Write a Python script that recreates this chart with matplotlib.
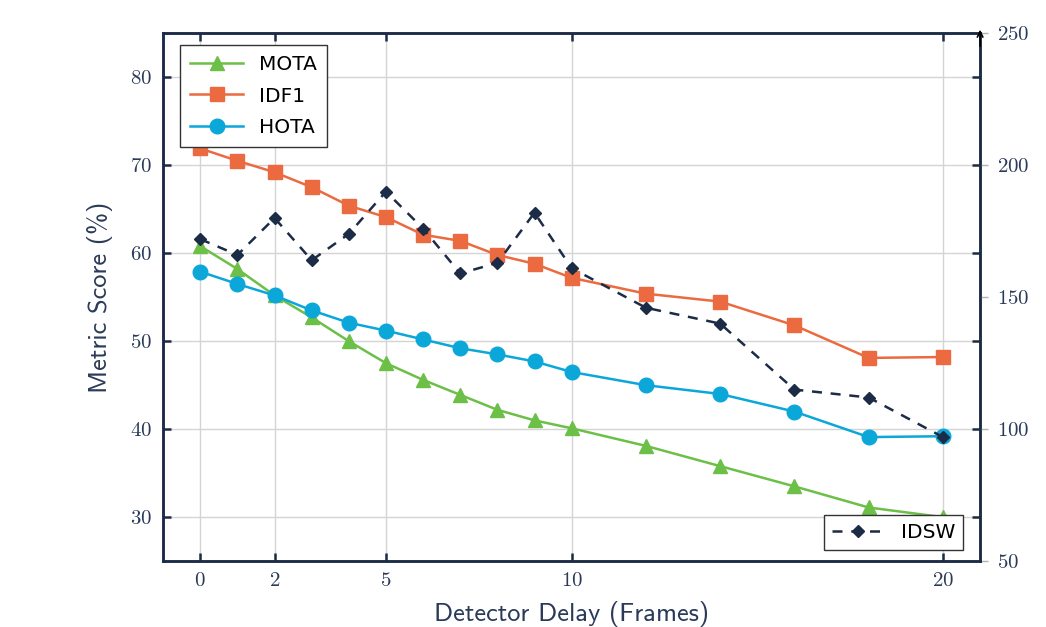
import matplotlib
matplotlib.use("Agg")
import matplotlib.pyplot as plt

delay = [0, 1, 2, 3, 4, 5, 6, 7, 8, 9, 10, 12, 14, 16, 18, 20]
mota = [60.8, 58.2, 55.2, 52.7, 50.0, 47.5, 45.6, 43.9, 42.2, 41.0, 40.1,
        38.1, 35.8, 33.5, 31.1, 30.0]
idf1 = [71.9, 70.5, 69.2, 67.5, 65.4, 64.1, 62.1, 61.4, 59.8, 58.8, 57.2,
        55.4, 54.5, 51.8, 48.1, 48.2]
hota = [57.9, 56.5, 55.2, 53.5, 52.1, 51.2, 50.2, 49.2, 48.5, 47.7, 46.5,
        45.0, 44.0, 42.0, 39.1, 39.2]
idsw = [172, 166, 180, 164, 174, 190, 176, 159, 163, 182, 161,
        146, 140, 115, 112, 97]

xticks = [0, 2, 5, 10, 20]
yticks_left = [30, 40, 50, 60, 70, 80]
yticks_right = [50, 100, 150, 200, 250]

navy = "#1c2b46"
label_col = "#2a3a58"
serif = "cmr10"
sans = "cmss10"

plt.rcParams["axes.formatter.use_mathtext"] = True

fig = plt.figure(figsize=(10.46, 6.27), dpi=100)
ax = fig.add_axes([0.156, 0.105, 0.781, 0.842])
ax2 = ax.twinx()

l1, = ax.plot(delay, mota, color="#6cbf47", lw=1.8, marker="^", ms=9.5, label="MOTA")
l2, = ax.plot(delay, idf1, color="#ec6a40", lw=1.8, marker="s", ms=10, label="IDF1")
l3, = ax.plot(delay, hota, color="#0ba7d9", lw=1.8, marker="o", ms=10.5, label="HOTA")
l4, = ax2.plot(delay, idsw, color=navy, lw=1.8, ls=(0, (4, 3.5)), marker="D", ms=6,
               label="IDSW")

ax.set_xlim(-1, 21)
ax.set_ylim(25, 85)
ax2.set_ylim(50, 250)
ax.set_xticks(xticks)
ax.set_yticks(yticks_left)
ax2.set_yticks(yticks_right)

ax.grid(True, color="#d4d4d4", lw=1)
ax.set_axisbelow(True)

for a in (ax, ax2):
    for s in a.spines.values():
        s.set_color(navy)
        s.set_linewidth(1.8)

ax.tick_params(direction="in", top=True, right=True, length=6, width=1.8,
               color=navy, labelcolor=label_col, labelsize=15, pad=8)
ax2.tick_params(direction="out", length=6, width=1, color="#b0b0b0",
                labelcolor=label_col, labelsize=15, pad=6)
for lab in ax.get_xticklabels() + ax.get_yticklabels() + ax2.get_yticklabels():
    lab.set_family(serif)

ax.set_xlabel("Detector Delay (Frames)", family=sans, fontsize=19,
              color=label_col, labelpad=8)
ax.set_ylabel("Metric Score (%)", family=sans, fontsize=19,
              color=label_col, labelpad=12)

ax2.annotate("", xy=(1, 1.012), xytext=(1, 0.97), xycoords="axes fraction",
             arrowprops=dict(arrowstyle="->", color="black", lw=1.2))

leg1 = ax2.legend(handles=[l1, l2, l3], loc="upper left", fontsize=14.5,
                  fancybox=False, framealpha=1, edgecolor="#333333",
                  borderpad=0.5, labelspacing=0.6, handlelength=2.6,
                  borderaxespad=0, bbox_to_anchor=(0.021, 0.977))
leg1.get_frame().set_linewidth(1)
ax2.add_artist(leg1)
leg2 = ax2.legend(handles=[l4], loc="lower right", fontsize=14.5,
                  fancybox=False, framealpha=1, edgecolor="#333333",
                  handlelength=2.6, borderaxespad=0,
                  bbox_to_anchor=(0.979, 0.021))
leg2.get_frame().set_linewidth(1)

fig.savefig("out.png", dpi=100)
